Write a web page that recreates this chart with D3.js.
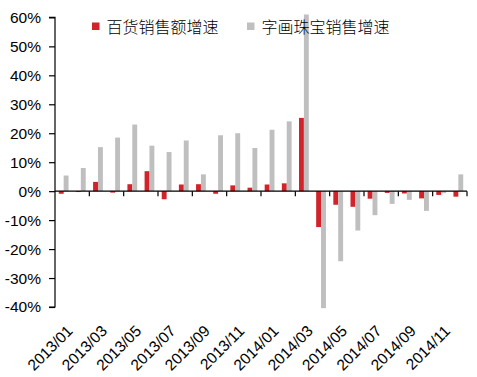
<!DOCTYPE html>
<html><head><meta charset="utf-8">
<script src="https://cdn.jsdelivr.net/npm/d3@7"></script>
<style>body{margin:0;background:#fff}svg{display:block}</style>
</head><body>
<svg id="c" width="477" height="377"></svg>
<script>
const categories = ["2013/01","2013/02","2013/03","2013/04","2013/05","2013/06","2013/07","2013/08","2013/09","2013/10","2013/11","2013/12",
"2014/01","2014/02","2014/03","2014/04","2014/05","2014/06","2014/07","2014/08","2014/09","2014/10","2014/11","2014/12"];
const deptStore = [-0.9,-0.3,3.2,-0.5,2.4,6.9,-2.8,2.3,2.4,-0.9,2.0,1.2,2.3,2.7,25.3,-12.4,-4.7,-5.4,-2.6,-0.6,-0.8,-2.5,-1.3,-1.9];
const artJewelry = [5.4,8.0,15.2,18.5,23.0,15.7,13.5,17.5,5.8,19.3,20.0,14.9,21.2,24.1,61,-40.4,-24.2,-13.6,-8.3,-4.4,-3.0,-6.8,-0.7,5.8];
const seriesNames = ["百货销售额增速","字画珠宝销售增速"];
const yTicks = [-40,-30,-20,-10,0,10,20,30,40,50,60];

(function(){
const svg = d3.select("#c");
const mLeft = 55, mRight = 467, mTop = 17.4, mBottom = 307;
const x = d3.scaleBand().domain(categories).range([mLeft,mRight]).paddingInner(0.43).paddingOuter(0.22);
const sub = d3.scaleBand().domain([0,1]).range([0,x.bandwidth()]);
const y = d3.scaleLinear().domain([-40,60]).range([mBottom,mTop]);
const colors = ["#d2232a","#bfbfbf"];
const font = "Liberation Sans, Arial, sans-serif";

// bars
[deptStore, artJewelry].forEach((vals,si)=>{
  svg.append("g").selectAll("rect").data(vals).join("rect")
    .attr("x",(d,i)=>x(categories[i])+sub(si))
    .attr("width",sub.bandwidth())
    .attr("y",d=>y(Math.max(0,d)))
    .attr("height",d=>Math.abs(y(d)-y(0)))
    .attr("fill",colors[si]);
});

// y axis
const yAxis = svg.append("g").attr("transform",`translate(${mLeft},0)`)
  .call(d3.axisLeft(y).tickValues(yTicks).tickFormat(d=>d+"%").tickSize(6).tickPadding(8));
yAxis.select(".domain").attr("stroke","#000").attr("stroke-width",1.2).attr("d",`M-6,${y(60)}H0V${y(-40)}H-6`);
yAxis.selectAll(".tick line").attr("stroke","#000").attr("stroke-width",1.2);
yAxis.selectAll("text").attr("font-family",font).attr("font-size","15.5px").attr("fill","#000");

// zero line with boundary ticks
const zg = svg.append("g");
zg.append("line").attr("x1",mLeft).attr("x2",mRight).attr("y1",y(0)).attr("y2",y(0)).attr("stroke","#000").attr("stroke-width",1.2);
const bounds = d3.range(2,25,2).map(k=>mLeft+(mRight-mLeft)*k/24);
zg.selectAll("line.t").data(bounds).join("line").attr("class","t")
  .attr("x1",d=>d).attr("x2",d=>d).attr("y1",y(0)).attr("y2",y(0)+5).attr("stroke","#000").attr("stroke-width",1.2);

// x labels
const labelCats = categories.filter((d,i)=>i%2===0);
svg.append("g").selectAll("text").data(labelCats).join("text")
  .attr("transform",d=>`translate(${x(d)+x.bandwidth()/2+10},${mBottom+25}) rotate(-45)`)
  .attr("text-anchor","end")
  .attr("font-family",font).attr("font-size","15.5px").attr("fill","#000")
  .text(d=>d);

// legend
const lg = svg.append("g");
const legendX = [92,247];
seriesNames.forEach((n,i)=>{
  lg.append("rect").attr("x",legendX[i]).attr("y",22.5).attr("width",7.5).attr("height",7.5).attr("fill",colors[i]);
  lg.append("text").attr("x",legendX[i]+14.5).attr("y",33).attr("font-family","Noto Sans CJK SC, sans-serif")
    .attr("font-size","16px").attr("font-weight",300).attr("fill","#000").text(n);
});
})();
</script>
</body></html>
